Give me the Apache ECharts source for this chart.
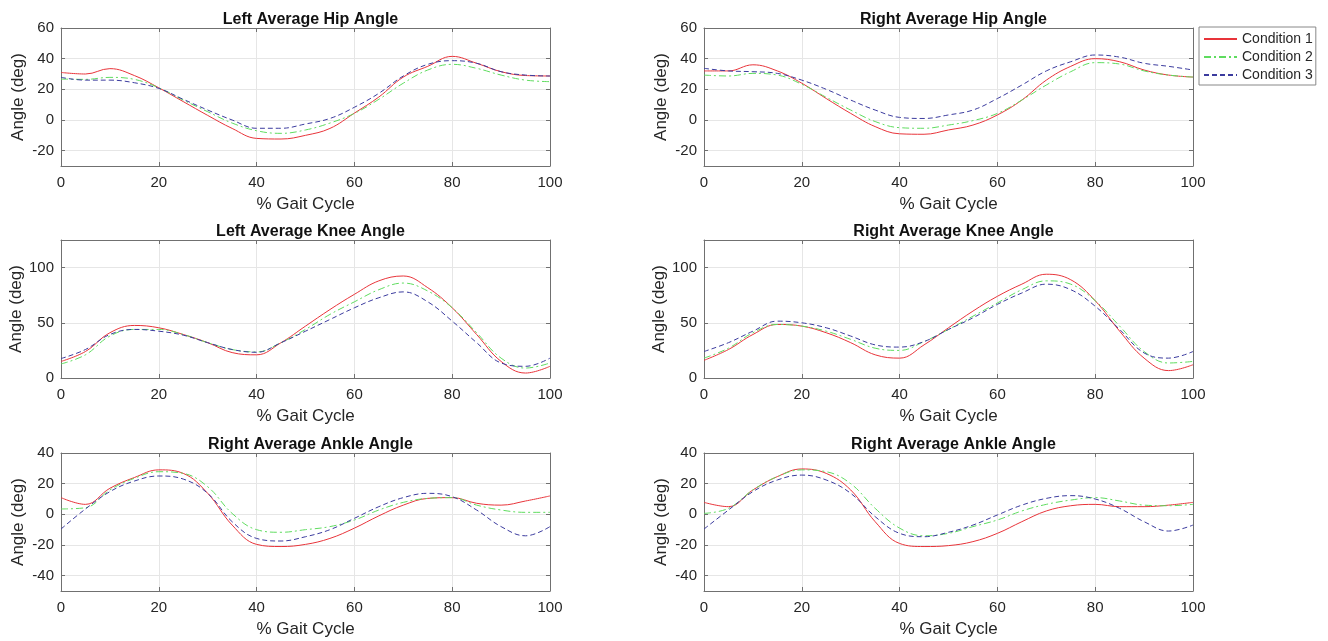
<!DOCTYPE html>
<html lang="en">
<head>
    <meta charset="UTF-8">
    <title>Average Joint Angles</title>
    <script src="https://cdn.jsdelivr.net/npm/echarts@6.0.0/dist/echarts.min.js"></script>
    <style>
        body { margin: 0; background: #fff; }
        #chart { width: 1328px; height: 641px; }
    </style>
</head>
<body>
    <div id="chart"></div>
    <script>
        // % gait cycle samples
        const xs = [0, 5, 10, 15, 20, 25, 30, 35, 40, 45, 50, 55, 60, 65, 70, 75, 80, 85, 90, 95, 100];
        const conditions = ['Condition 1', 'Condition 2', 'Condition 3'];

        // left hip
        const hipL1 = [31, 30, 33.5, 29, 21, 12, 3, -5.5, -12, -12.4, -10, -5.5, 4.5, 15, 28, 35, 41.5, 37, 31.5, 29, 28.7];
        const hipL2 = [26.7, 26.5, 27.8, 26.5, 21, 13, 5.4, -2, -7, -8.7, -6.5, -2, 4.3, 13.5, 24, 32.6, 36.3, 33.7, 29.3, 26, 25];
        const hipL3 = [27.8, 26, 26, 24.3, 20.6, 13.5, 6.5, 0, -5.4, -5.4, -2.6, 1, 8.3, 17.4, 28.7, 36.3, 38.7, 37, 31.5, 29.3, 28.7];
        // right hip
        const hipR1 = [32, 32, 36, 32, 24, 14, 4.3, -4.3, -9, -9.3, -6.5, -3.3, 3.3, 13, 26, 35, 40, 38, 32.6, 29.3, 28];
        const hipR2 = [29.3, 28.7, 30.4, 29.3, 23.3, 14.8, 6.5, -1, -5, -5.4, -3.3, -0.4, 4.3, 13, 22.8, 31.5, 37.4, 36.5, 32, 29.3, 28];
        const hipR3 = [33.7, 32, 31.5, 30.4, 26, 20, 13, 6.5, 1.7, 1, 3.3, 6.5, 14, 22.8, 32, 38, 42.4, 41, 37, 35, 32.6];
        // left knee
        const kneeL1 = [15, 24, 41, 47.6, 45.5, 39.4, 32, 23, 21, 32, 47, 62, 75.8, 88, 92.4, 81.8, 63.6, 39.4, 15, 4.5, 10.6];
        const kneeL2 = [12.7, 21, 38, 44, 44, 39.4, 32, 25.8, 23.6, 32, 44, 57.6, 69, 80, 86, 78.8, 63.6, 41, 18, 9, 13.6];
        const kneeL3 = [17.6, 25.8, 39.4, 44, 42.4, 38.8, 32, 25.8, 23.3, 32, 42.4, 53, 63.6, 72.7, 78, 69, 51.5, 32, 13.6, 10.6, 18];
        // right knee
        const kneeR1 = [16, 25.8, 39.4, 48.5, 47, 41, 32, 21, 18, 30, 45.5, 60.6, 74, 85, 94, 89, 70, 42.4, 18, 6.7, 12];
        const kneeR2 = [18, 27, 41, 48.5, 47, 42.4, 35, 27, 25, 33, 44, 56, 68, 80, 88, 85, 70, 47, 24, 13.6, 15];
        const kneeR3 = [24, 32, 42.4, 51.5, 50, 45.5, 38, 30, 28, 33, 44, 54.5, 66.7, 77, 85, 80, 65, 44, 22.7, 18, 24];
        // left-side panel of ankle row
        const ankL1 = [10.9, 6.5, 17, 24, 29, 26.7, 13.7, -7, -19.6, -21, -19.6, -15.7, -9, -1, 6, 10.4, 10.9, 7.2, 6, 8.7, 12];
        const ankL2 = [3.5, 4.3, 15.9, 23.5, 27.8, 26.7, 18, 0.6, -10, -11.7, -10, -8, -3.7, 2.8, 7.8, 10.4, 10.9, 6, 2.8, 1.3, 1.3];
        const ankL3 = [-9.6, 3.5, 14.8, 21.7, 25, 23, 13.7, -4.8, -15.7, -17.4, -14.6, -10, -2.6, 5, 10.9, 13.7, 11.5, 2.8, -8, -14, -8];
        // right-side panel of ankle row
        const ankR1 = [7.8, 5, 15.9, 24.6, 29.6, 26.7, 15.9, -4.8, -19, -21, -20.4, -17.8, -12.4, -4.8, 2.2, 5.6, 6.5, 5, 5, 6, 7.8];
        const ankR2 = [0.6, 3.9, 15.9, 24.6, 29, 27.8, 20, 3.9, -9, -14, -12.4, -8, -3.7, 2.2, 6.5, 9.3, 10.9, 8.7, 6, 5.6, 6.5];
        const ankR3 = [-9.6, 2.8, 14.8, 22.4, 25.6, 22.4, 13.7, -1.5, -12.4, -14.6, -11.7, -7, -0.4, 6, 10.4, 12.2, 10, 3.9, -4.8, -10.9, -7];

        const panels = [
            { title: 'Left Average Hip Angle', min: -30, max: 60, step: 20, data: [hipL1, hipL2, hipL3] },
            { title: 'Right Average Hip Angle', min: -30, max: 60, step: 20, data: [hipR1, hipR2, hipR3] },
            { title: 'Left Average Knee Angle', min: 0, max: 125, step: 50, data: [kneeL1, kneeL2, kneeL3] },
            { title: 'Right Average Knee Angle', min: 0, max: 125, step: 50, data: [kneeR1, kneeR2, kneeR3] },
            { title: 'Right Average Ankle Angle', min: -50, max: 40, step: 20, data: [ankL1, ankL2, ankL3] },
            { title: 'Right Average Ankle Angle', min: -50, max: 40, step: 20, data: [ankR1, ankR2, ankR3] }
        ];

        const lefts = [61, 704];
        const tops = [28, 240, 453];
        const W = 489, H = 138;
        const txt = '#262626';
        const edge = '#707070';
        const font = 'Liberation Sans, Arial, sans-serif';
        const lineStyles = [
            { color: '#e8343a', type: 'solid' },
            { color: '#5fdc5f', type: [7, 3, 2, 3] },
            { color: '#3b3b9e', type: [5, 3] }
        ];

        const grids = [], xAxes = [], yAxes = [], titles = [], series = [];
        panels.forEach((p, i) => {
            const left = lefts[i % 2], top = tops[Math.floor(i / 2)];
            grids.push({ left: left, top: top, width: W, height: H });
            titles.push({
                text: p.title, left: left + W / 2, top: top - 21, textAlign: 'center',
                textStyle: { fontFamily: font, fontSize: 16, fontWeight: 'bold', color: '#111' }
            });
            const tick = { show: true, inside: true, length: 4, lineStyle: { color: edge } };
            const line = { show: true, onZero: false, lineStyle: { color: edge, width: 1 } };
            xAxes.push({
                type: 'value', gridIndex: i, min: 0, max: 100, interval: 20, position: 'bottom',
                name: '% Gait Cycle', nameLocation: 'middle', nameGap: 30,
                nameTextStyle: { fontFamily: font, fontSize: 17, color: txt },
                axisLine: line, axisTick: tick,
                axisLabel: { fontFamily: font, fontSize: 15, color: txt, margin: 9 },
                splitLine: { show: true, lineStyle: { color: '#e6e6e6' } }
            });
            // mirrored top / right axes close the box like a MATLAB plot
            xAxes.push({
                type: 'value', gridIndex: i, min: 0, max: 100, interval: 20, position: 'top',
                axisLine: line, axisTick: tick, axisLabel: { show: false }, splitLine: { show: false }
            });
            yAxes.push({
                type: 'value', gridIndex: i, min: p.min, max: p.max, minInterval: p.step, maxInterval: p.step,
                position: 'left',
                name: 'Angle (deg)', nameLocation: 'middle', nameGap: 34,
                nameTextStyle: { fontFamily: font, fontSize: 17, color: txt },
                axisLine: line, axisTick: tick,
                axisLabel: {
                    fontFamily: font, fontSize: 15, color: txt, margin: 7,
                    formatter: v => (v % p.step === 0 ? String(v) : '')
                },
                splitLine: { show: true, lineStyle: { color: '#e6e6e6' } }
            });
            yAxes.push({
                type: 'value', gridIndex: i, min: p.min, max: p.max, minInterval: p.step, maxInterval: p.step,
                position: 'right',
                axisLine: line, axisTick: tick, axisLabel: { show: false }, splitLine: { show: false }
            });
            p.data.forEach((vals, k) => {
                series.push({
                    name: conditions[k], type: 'line', xAxisIndex: 2 * i, yAxisIndex: 2 * i,
                    data: xs.map((x, j) => [x, vals[j]]),
                    smooth: 0.4, symbol: 'none', animation: false,
                    lineStyle: { color: lineStyles[k].color, type: lineStyles[k].type, width: 1 },
                    itemStyle: { color: lineStyles[k].color }
                });
            });
        });

        const chart = echarts.init(document.getElementById('chart'));
        chart.setOption({
            animation: false,
            title: titles,
            grid: grids,
            xAxis: xAxes,
            yAxis: yAxes,
            legend: {
                data: conditions, orient: 'vertical', left: 1199, top: 27,
                borderColor: '#888', borderWidth: 1, backgroundColor: '#fff',
                padding: [5, 3, 3, 4], itemGap: 4, itemWidth: 33, itemHeight: 14,
                itemStyle: { opacity: 0 },
                textStyle: { fontFamily: font, fontSize: 14, color: txt }
            },
            series: series
        });
    </script>
</body>
</html>
